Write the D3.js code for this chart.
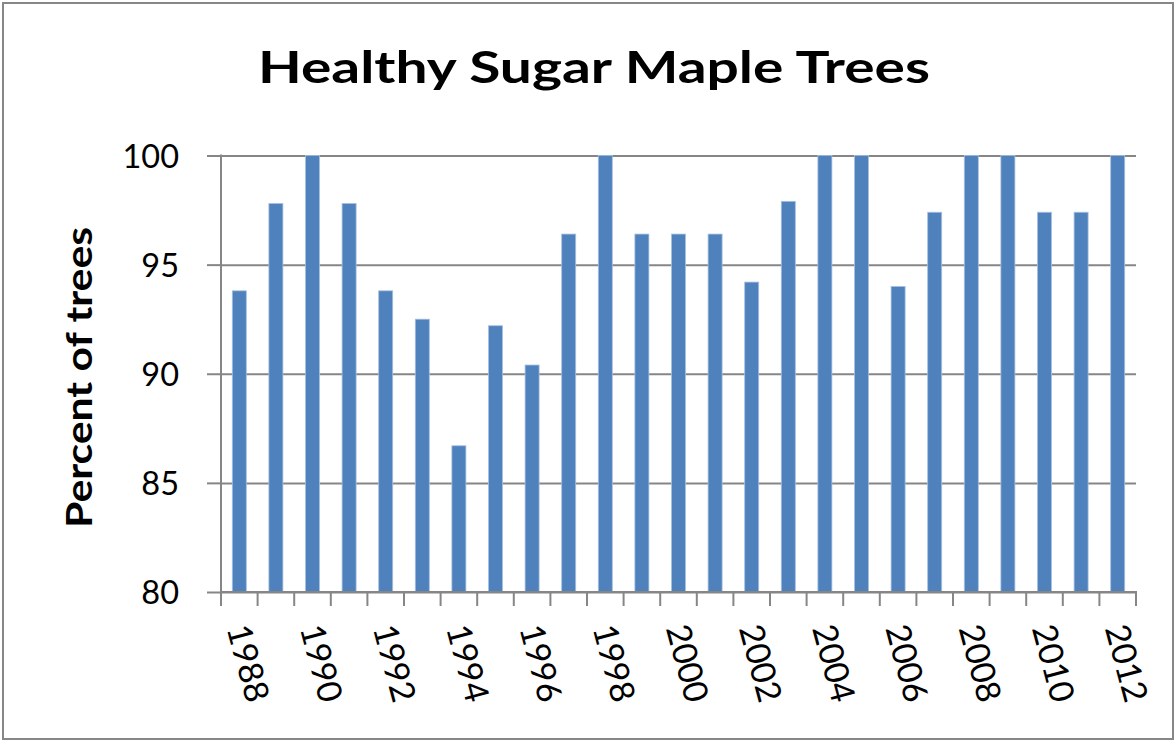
<!DOCTYPE html>
<html>
<head>
<meta charset="utf-8">
<script src="https://cdn.jsdelivr.net/npm/d3@7"></script>
<style>
  html, body { margin: 0; padding: 0; background: #fff; }
  svg { display: block; }
</style>
</head>
<body>
<div id="chart"></div>
<script>
const years = ["1988","1989","1990","1991","1992","1993","1994","1995","1996","1997","1998","1999","2000","2001","2002","2003","2004","2005","2006","2007","2008","2009","2010","2011","2012"];
const percentHealthy = [93.8, 97.8, 100, 97.8, 93.8, 92.5, 86.7, 92.2, 90.4, 96.4, 100, 96.4, 96.4, 96.4, 94.2, 97.9, 100, 100, 94.0, 97.4, 100, 100, 97.4, 97.4, 100];
const yTicks = [80, 85, 90, 95, 100];
const xTickLabels = ["1988","1990","1992","1994","1996","1998","2000","2002","2004","2006","2008","2010","2012"];
const titleText = "Healthy Sugar Maple Trees";
const yAxisTitle = "Percent of trees";

const W = 1174, H = 741;
const plot = { left: 221, right: 1136, top: 155.5, bottom: 592 };
const axisColor = "#868686";
const barColor = "#4F81BD";
const font = "Lato, 'Open Sans', sans-serif";

const svg = d3.select("#chart").append("svg").attr("width", W).attr("height", H);

// outer border
svg.append("rect").attr("x", 3).attr("y", 3).attr("width", 1170).attr("height", 736)
  .attr("fill", "none").attr("stroke", "#878787").attr("stroke-width", 2);

const x = d3.scaleBand().domain(years).range([plot.left, plot.right])
  .paddingInner(0.617).paddingOuter(0.3085);
const y = d3.scaleLinear().domain([80, 100]).range([plot.bottom, plot.top]);

// gridlines + y ticks
const yAxis = d3.axisLeft(y).tickValues(yTicks).tickSize(14).tickFormat("");
const gy = svg.append("g").attr("transform", `translate(${plot.left},0)`).call(yAxis);
gy.select(".domain").remove();
gy.selectAll(".tick line").attr("stroke", axisColor).attr("stroke-width", 2);
gy.selectAll(".tick").append("line")
  .attr("x1", 0).attr("x2", plot.right - plot.left)
  .attr("stroke", axisColor).attr("stroke-width", 2);
gy.selectAll(".tick").append("text")
  .attr("x", -42).attr("dy", "0.36em")
  .attr("text-anchor", "end")
  .attr("fill", "#000")
  .style("font-family", font).style("font-size", "32.5px")
  .text(d => d);

// bars
svg.append("g").selectAll("rect").data(years).join("rect")
  .attr("x", d => x(d))
  .attr("y", (d, i) => y(percentHealthy[i]))
  .attr("width", x.bandwidth())
  .attr("height", (d, i) => y(80) - y(percentHealthy[i]))
  .attr("fill", barColor)
  .attr("stroke", "#a7c0df").attr("stroke-width", 0.8);

// y axis line
svg.append("line").attr("x1", plot.left).attr("x2", plot.left)
  .attr("y1", plot.top - 1).attr("y2", plot.bottom)
  .attr("stroke", axisColor).attr("stroke-width", 2);

// x axis: ticks at category boundaries
const boundaries = d3.range(years.length + 1).map(i => plot.left + i * x.step());
const gx = svg.append("g");
gx.append("line").attr("x1", plot.left - 1).attr("x2", plot.right + 1)
  .attr("y1", plot.bottom).attr("y2", plot.bottom)
  .attr("stroke", axisColor).attr("stroke-width", 2);
gx.selectAll("line.tk").data(boundaries).join("line").attr("class", "tk")
  .attr("x1", d => d).attr("x2", d => d)
  .attr("y1", plot.bottom).attr("y2", plot.bottom + 14)
  .attr("stroke", axisColor).attr("stroke-width", 2);

// x labels (every other year), rotated
gx.selectAll("text").data(xTickLabels).join("text")
  .attr("transform", d => `translate(${x(d) + x.bandwidth() / 2 - 1},625) rotate(75)`)
  .attr("dy", "0.36em")
  .attr("text-anchor", "start")
  .attr("fill", "#000")
  .style("font-family", font).style("font-size", "34px")
  .text(d => d);

// title
svg.append("text")
  .attr("x", 258).attr("y", 82.5)
  .attr("textLength", 672).attr("lengthAdjust", "spacingAndGlyphs")
  .attr("fill", "#000")
  .style("font-family", font).style("font-weight", "bold").style("font-size", "44px")
  .text(titleText);

// y axis title
svg.append("text")
  .attr("transform", "translate(91.5,528) rotate(-90)")
  .attr("textLength", 301).attr("lengthAdjust", "spacingAndGlyphs")
  .attr("fill", "#000")
  .style("font-family", font).style("font-weight", "bold").style("font-size", "37px")
  .text(yAxisTitle);
</script>
</body>
</html>
